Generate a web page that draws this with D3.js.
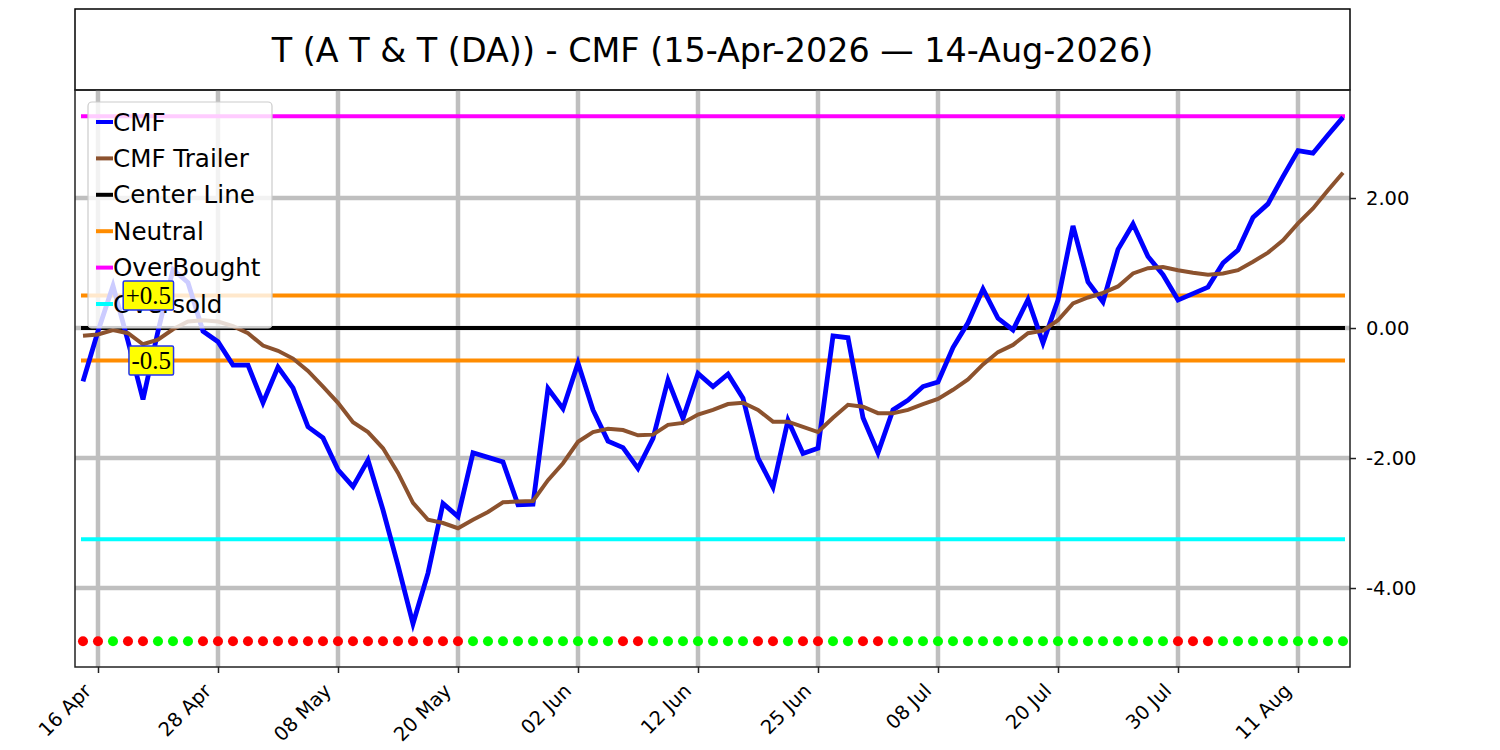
<!DOCTYPE html>
<html>
<head>
<meta charset="utf-8">
<script src="https://cdn.jsdelivr.net/npm/d3@7"></script>
<style>
  body { margin: 0; background: #fff; }
  svg { font-family: "DejaVu Sans", sans-serif; }
</style>
</head>
<body>
<svg id="chart" width="1500" height="750"></svg>
<script>
// trading days, 15 Apr 2026 .. 14 Aug 2026
var dates = [
  "2026-04-15","2026-04-16","2026-04-17","2026-04-20","2026-04-21","2026-04-22","2026-04-23","2026-04-24","2026-04-27","2026-04-28","2026-04-29","2026-04-30",
  "2026-05-01","2026-05-04","2026-05-05","2026-05-06","2026-05-07","2026-05-08","2026-05-11","2026-05-12","2026-05-13","2026-05-14","2026-05-15","2026-05-18","2026-05-19","2026-05-20","2026-05-21","2026-05-22","2026-05-26","2026-05-27","2026-05-28","2026-05-29",
  "2026-06-01","2026-06-02","2026-06-03","2026-06-04","2026-06-05","2026-06-08","2026-06-09","2026-06-10","2026-06-11","2026-06-12","2026-06-15","2026-06-16","2026-06-17","2026-06-18","2026-06-22","2026-06-23","2026-06-24","2026-06-25","2026-06-26","2026-06-29","2026-06-30",
  "2026-07-01","2026-07-02","2026-07-06","2026-07-07","2026-07-08","2026-07-09","2026-07-10","2026-07-13","2026-07-14","2026-07-15","2026-07-16","2026-07-17","2026-07-20","2026-07-21","2026-07-22","2026-07-23","2026-07-24","2026-07-27","2026-07-28","2026-07-29","2026-07-30","2026-07-31",
  "2026-08-03","2026-08-04","2026-08-05","2026-08-06","2026-08-07","2026-08-10","2026-08-11","2026-08-12","2026-08-13","2026-08-14"
];

var cmf = [
  -0.82, -0.05, 0.65, -0.2, -1.1, -0.05, 0.9, 0.7, -0.05, -0.21,
  -0.57, -0.57, -1.15, -0.6, -0.92, -1.52, -1.69, -2.18, -2.44, -2.03,
  -2.8, -3.65, -4.55, -3.77, -2.7, -2.9, -1.92, -1.99, -2.06, -2.72,
  -2.71, -0.93, -1.24, -0.54, -1.26, -1.74, -1.84, -2.16, -1.7, -0.8,
  -1.39, -0.7, -0.9, -0.71, -1.08, -2.0, -2.45, -1.42, -1.93, -1.85,
  -0.12, -0.15, -1.38, -1.92, -1.26, -1.11, -0.9, -0.83, -0.3, 0.08,
  0.6, 0.15, -0.03, 0.44, -0.23, 0.43, 1.57, 0.71, 0.4, 1.21,
  1.6, 1.1, 0.82, 0.43, 0.53, 0.63, 1.0, 1.2, 1.7, 1.91,
  2.33, 2.73, 2.69, 2.97, 3.24
];

var trailer = [
  -0.12, -0.1, -0.03, -0.08, -0.25, -0.18, -0.02, 0.1, 0.12, 0.1,
  0.03, -0.08, -0.27, -0.35, -0.47, -0.66, -0.9, -1.15, -1.45, -1.6,
  -1.85, -2.23, -2.69, -2.95, -3.0, -3.08, -2.95, -2.83, -2.68, -2.67,
  -2.66, -2.34, -2.08, -1.75, -1.6, -1.55, -1.57, -1.65, -1.64, -1.49,
  -1.46, -1.33, -1.26, -1.17, -1.15, -1.26, -1.44, -1.44, -1.52, -1.6,
  -1.38, -1.18, -1.21, -1.31, -1.31, -1.26, -1.17, -1.09, -0.95, -0.79,
  -0.56, -0.37, -0.26, -0.08, -0.04, 0.12, 0.38, 0.47, 0.54, 0.64,
  0.84, 0.92, 0.94, 0.89, 0.85, 0.82, 0.84, 0.89, 1.02, 1.16,
  1.35, 1.61, 1.84, 2.12, 2.39
];

// 1 = green dot, 0 = red dot
var signal = [
  0,0,1,0,0,1,1,1,0,0, 0,0,0,0,0,0,0,0,0,0,
  0,0,0,0,0,0,1,1,1,1, 1,1,1,1,1,1,0,0,1,1,
  1,1,1,1,1,0,0,1,0,0, 1,1,0,0,1,1,1,1,1,1,
  1,1,1,1,1,1,1,1,1,1, 1,1,1,0,0,0,1,1,1,1,
  1,1,1,1,1
];

var levels = [
  { name: "Center Line", value: 0,     color: "#000000" },
  { name: "Neutral",     value: 0.5,   color: "#ff8c00" },
  { name: "Neutral",     value: -0.5,  color: "#ff8c00" },
  { name: "OverBought",  value: 3.26,  color: "#ff00ff" },
  { name: "Oversold",    value: -3.25, color: "#00ffff" }
];
var levelLabels = ["+0.5", "-0.5"];
var levelLabelValues = [0.5, -0.5];

var tickLabels = ["16 Apr","28 Apr","08 May","20 May","02 Jun","12 Jun","25 Jun","08 Jul","20 Jul","30 Jul","11 Aug"];
var tickDates = ["2026-04-16","2026-04-28","2026-05-08","2026-05-20","2026-06-02","2026-06-12","2026-06-25","2026-07-08","2026-07-20","2026-07-30","2026-08-11"];
var yTicks = [-4, -2, 0, 2];
var dotValue = -4.82;

var title = "T (A T & T (DA)) - CMF (15-Apr-2026 \u2014 14-Aug-2026)";

var legendItems = [
  { name: "CMF",         color: "#0000ff" },
  { name: "CMF Trailer", color: "#8c522e" },
  { name: "Center Line", color: "#000000" },
  { name: "Neutral",     color: "#ff8c00" },
  { name: "OverBought",  color: "#ff00ff" },
  { name: "Oversold",    color: "#00ffff" }
];

var svg = d3.select("#chart"),
    pL = 75, pR = 1350, pT = 90, pB = 667;

var x = d3.scaleLinear().domain([-0.533, 84.467]).range([pL, pR]);
var y = d3.scaleLinear().domain([-5.215, 3.662]).range([pB, pT]);

var tickIdx = tickDates.map(function(d) { return dates.indexOf(d); });

// title box
svg.append("rect")
    .attr("x", pL).attr("y", 9)
    .attr("width", pR - pL).attr("height", pT - 9)
    .attr("fill", "none").attr("stroke", "#000").attr("stroke-width", 1.5);
svg.append("text")
    .attr("x", (pL + pR) / 2).attr("y", 50)
    .attr("text-anchor", "middle").attr("dominant-baseline", "central")
    .attr("font-size", 33.4).attr("fill", "#000")
    .text(title);

// grid
var grid = svg.append("g").attr("stroke", "#bfbfbf").attr("stroke-width", 4.5);
grid.selectAll(".vg").data(tickIdx).enter().append("line")
    .attr("x1", function(d) { return x(d); }).attr("x2", function(d) { return x(d); })
    .attr("y1", pT).attr("y2", pB);
grid.selectAll(".hg").data(yTicks).enter().append("line")
    .attr("x1", pL).attr("x2", pR)
    .attr("y1", function(d) { return y(d); }).attr("y2", function(d) { return y(d); });

// reference levels
svg.append("g").selectAll("line").data(levels).enter().append("line")
    .attr("x1", x(0)).attr("x2", x(dates.length - 1))
    .attr("y1", function(d) { return y(d.value); }).attr("y2", function(d) { return y(d.value); })
    .attr("stroke", function(d) { return d.color; })
    .attr("stroke-width", 4).attr("stroke-linecap", "square");

var line = d3.line()
    .x(function(d, i) { return x(i); })
    .y(function(d) { return y(d); });

svg.append("path").datum(cmf)
    .attr("d", line).attr("fill", "none")
    .attr("stroke", "#0000ff").attr("stroke-width", 4.8);

svg.append("path").datum(trailer)
    .attr("d", line).attr("fill", "none")
    .attr("stroke", "#8c522e").attr("stroke-width", 4);

// signal dots
svg.append("g").selectAll("circle").data(signal).enter().append("circle")
    .attr("cx", function(d, i) { return x(i); })
    .attr("cy", y(dotValue))
    .attr("r", 5)
    .attr("fill", function(d) { return d ? "#00ff00" : "#ff0000"; });

// frame
svg.append("rect")
    .attr("x", pL).attr("y", pT)
    .attr("width", pR - pL).attr("height", pB - pT)
    .attr("fill", "none").attr("stroke", "#222").attr("stroke-width", 1.5);

// axes
var xAxis = svg.append("g")
    .attr("transform", "translate(0," + pB + ")")
    .call(d3.axisBottom(x).tickValues(tickIdx)
        .tickFormat(function(d, i) { return tickLabels[i]; })
        .tickSize(6).tickSizeOuter(0));
xAxis.select(".domain").remove();
xAxis.selectAll(".tick line").attr("stroke", "#222").attr("stroke-width", 1.5);
xAxis.selectAll(".tick text")
    .attr("font-size", 19.5).attr("font-family", "DejaVu Sans").attr("fill", "#000")
    .attr("text-anchor", "end")
    .attr("dy", null)
    .attr("y", 0)
    .attr("transform", "translate(-6,25) rotate(-45)");

var yAxis = svg.append("g")
    .attr("transform", "translate(" + pR + ",0)")
    .call(d3.axisRight(y).tickValues(yTicks)
        .tickFormat(function(d) { return d.toFixed(2); })
        .tickSize(6).tickPadding(10).tickSizeOuter(0));
yAxis.select(".domain").remove();
yAxis.selectAll(".tick line").attr("stroke", "#222").attr("stroke-width", 1.5);
yAxis.selectAll(".tick text")
    .attr("font-size", 19.5).attr("font-family", "DejaVu Sans").attr("fill", "#000");

// legend
var lg = svg.append("g");
lg.append("rect")
    .attr("x", 88).attr("y", 102).attr("width", 184).attr("height", 226)
    .attr("rx", 4).attr("fill", "#fff").attr("fill-opacity", 0.8)
    .attr("stroke", "#cccccc").attr("stroke-width", 1.2);
var li = lg.selectAll(".li").data(legendItems).enter().append("g")
    .attr("transform", function(d, i) { return "translate(0," + (122 + i * 36.4) + ")"; });
li.append("line")
    .attr("x1", 96).attr("x2", 113).attr("y1", 0).attr("y2", 0)
    .attr("stroke", function(d) { return d.color; }).attr("stroke-width", 4);
li.append("text")
    .attr("x", 113).attr("y", 0).attr("dominant-baseline", "central")
    .attr("font-size", 24.6).attr("fill", "#000")
    .text(function(d) { return d.name; });

// level labels
levelLabels.forEach(function(t, i) {
    var g = svg.append("g");
    var txt = g.append("text")
        .attr("x", x(5.87)).attr("y", y(levelLabelValues[i]))
        .attr("text-anchor", "end").attr("dominant-baseline", "central")
        .attr("font-family", "Liberation Serif, serif").attr("font-size", 25)
        .attr("fill", "#000").text(t);
    var b = txt.node().getBBox();
    g.insert("rect", "text")
        .attr("x", b.x - 2.5).attr("y", y(levelLabelValues[i]) - 14.5)
        .attr("width", b.width + 5).attr("height", 29)
        .attr("rx", 1.5)
        .attr("fill", "#ffff00").attr("stroke", "#2233ee").attr("stroke-width", 1.5);
});
</script>
</body>
</html>
